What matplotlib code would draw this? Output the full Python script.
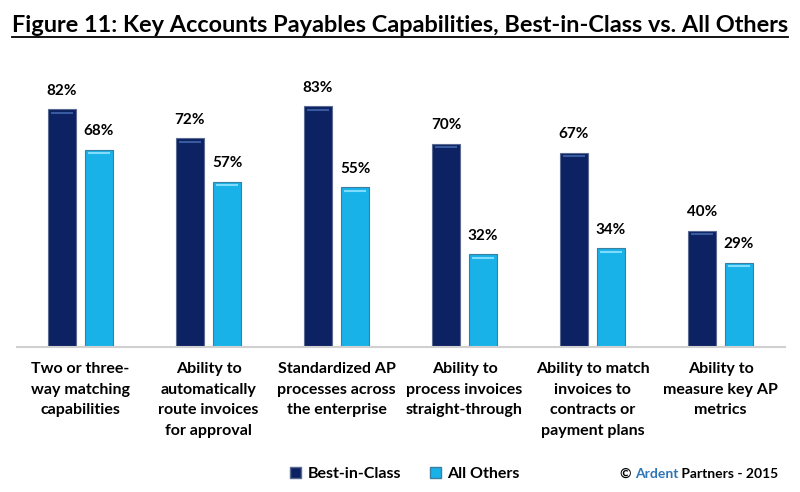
import matplotlib.pyplot as plt
from matplotlib.lines import Line2D
from matplotlib.patches import Patch
import numpy as np

plt.rcParams['font.family'] = ['Lato', 'DejaVu Sans']
plt.rcParams['font.weight'] = 'bold'

categories = ["Two or three-\nway matching\ncapabilities",
              "Ability to\nautomatically\nroute invoices\nfor approval",
              "Standardized AP\nprocesses across\nthe enterprise",
              "Ability to\nprocess invoices\nstraight-through",
              "Ability to match\ninvoices to\ncontracts or\npayment plans",
              "Ability to\nmeasure key AP\nmetrics"]
best_in_class = [82, 72, 83, 70, 67, 40]
all_others = [68, 57, 55, 32, 34, 29]

dark = '#0c2262'
light = '#18b2e9'

fig = plt.figure(figsize=(8, 4.92), dpi=100)
ax = fig.add_axes([16.5 / 800, (492 - 347) / 492, 768 / 800, 290 / 492])

x = np.arange(len(categories))
w = 0.22
off = 0.145
b1 = ax.bar(x - off, best_in_class, w, color=dark, edgecolor='#5a6a90', linewidth=0.8)
b2 = ax.bar(x + off, all_others, w, color=light, edgecolor='#3a7fa0', linewidth=0.8)

# a little bevel on the tops of the bars
for bars, hl in ((b1, '#3a5aa0'), (b2, '#7fdcff')):
    for r in bars:
        ax.plot([r.get_x() + 0.03, r.get_x() + r.get_width() - 0.03],
                [r.get_height() - 1.2, r.get_height() - 1.2], color=hl, lw=1.5)

for xi, v in zip(x - off, best_in_class):
    ax.text(xi, v + 4, f"{v}%", ha='center', va='bottom', fontsize=11)
for xi, v in zip(x + off, all_others):
    ax.text(xi, v + 4, f"{v}%", ha='center', va='bottom', fontsize=11)

ax.set_xlim(-0.5, len(categories) - 0.5)
ax.set_ylim(0, 100)
ax.set_yticks([])
ax.set_xticks(x)
ax.set_xticklabels(categories, fontsize=11.5, linespacing=1.6)
ax.tick_params(axis='x', length=0, pad=11)
for s in ['top', 'left', 'right']:
    ax.spines[s].set_visible(False)
ax.spines['bottom'].set_color('#d0d0d0')
ax.spines['bottom'].set_linewidth(1.5)

title = fig.text(0.5, 1 - 25 / 492, "Figure 11: Key Accounts Payables Capabilities, Best-in-Class vs. All Others",
                 ha='center', va='center', fontsize=16.9)
fig.canvas.draw()
r = fig.canvas.get_renderer()
bb = title.get_window_extent(r).transformed(fig.transFigure.inverted())
fig.add_artist(Line2D([bb.x0, bb.x1], [bb.y0 - 0.004, bb.y0 - 0.004], color='black', lw=1.3))

handles = [Patch(facecolor=dark, edgecolor='#5a6a90'), Patch(facecolor=light, edgecolor='#3a7fa0')]
fig.legend(handles, ['Best-in-Class', 'All Others'], loc='center', ncol=2,
           bbox_to_anchor=(405 / 800, 1 - 474 / 492), frameon=False, fontsize=11.5,
           handlelength=0.7, handleheight=0.7, handletextpad=0.4, columnspacing=1.8)

# copyright line with coloured "Ardent"
y_c = 1 - 474 / 492
t1 = fig.text(620 / 800, y_c, "© ", ha='left', va='center', fontsize=10)
fig.canvas.draw()
e = t1.get_window_extent(r).transformed(fig.transFigure.inverted())
t2 = fig.text(e.x1, y_c, "Ardent", ha='left', va='center', fontsize=10, color='#2e75b6')
fig.canvas.draw()
e = t2.get_window_extent(r).transformed(fig.transFigure.inverted())
fig.text(e.x1, y_c, " Partners - 2015", ha='left', va='center', fontsize=10)

fig.savefig('out.png', dpi=100)
